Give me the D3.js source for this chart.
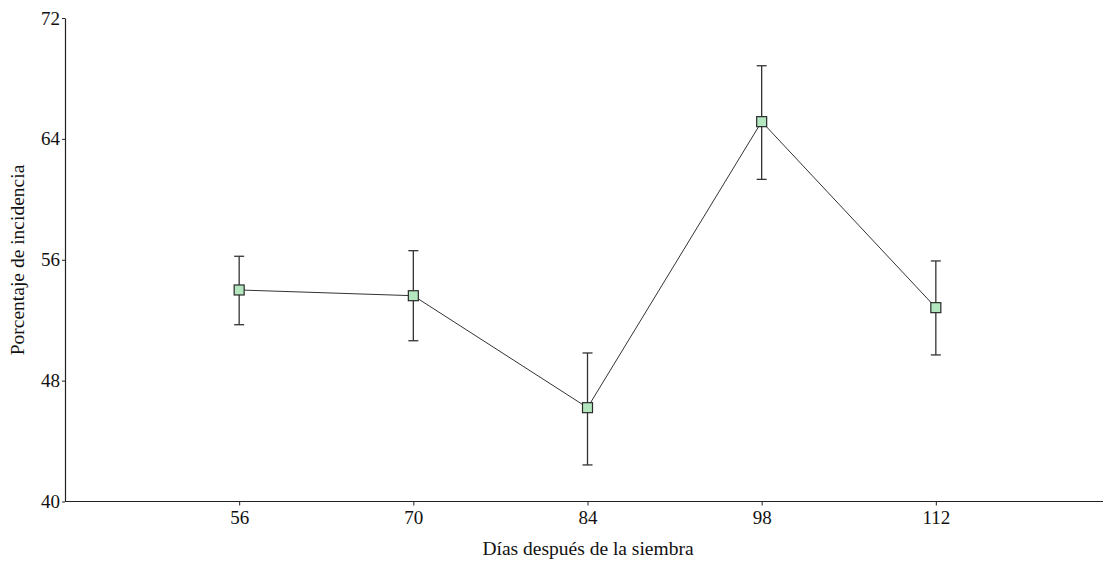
<!DOCTYPE html>
<html><head><meta charset="utf-8">
<script src="https://cdn.jsdelivr.net/npm/d3@7"></script>
<style>body{margin:0;background:#fff}svg{display:block}text{font-family:"Liberation Serif","Times New Roman",serif;fill:#111}</style>
</head><body><svg id="c" width="1103" height="563"></svg>
<script>
const days = [56, 70, 84, 98, 112];
const means = [54.0, 53.62, 46.21, 65.14, 52.83];
const upper = [56.23, 56.6, 49.83, 68.84, 55.92];
const lower = [51.7, 50.64, 42.42, 61.32, 49.7];
const yTicks = [40, 48, 56, 64, 72];
const xLabel = "Días después de la siembra";
const yLabel = "Porcentaje de incidencia";

const svg = d3.select("#c");
const x = d3.scaleLinear().domain([42, 126]).range([65, 1110]);
const y = d3.scaleLinear().domain([40, 72]).range([501.5, 18]);

const xAxis = svg.append("g").attr("transform", "translate(0,501.5)")
  .call(d3.axisBottom(x).tickValues(days).tickSize(4).tickSizeOuter(0).tickPadding(5));
const yAxis = svg.append("g").attr("transform", "translate(65,0)")
  .call(d3.axisLeft(y).tickValues(yTicks).tickSize(3).tickSizeOuter(0).tickPadding(2));
[xAxis, yAxis].forEach(g => {
  g.select(".domain").attr("stroke", "#222").attr("stroke-width", 1.2);
  g.selectAll(".tick line").attr("stroke", "#222");
  g.selectAll(".tick text").style("font-family", '"Liberation Serif",serif').style("font-size", "19px").attr("fill", "#111");
});
xAxis.select(".domain").remove();
xAxis.append("line").attr("x1", 65).attr("x2", 1103).attr("y1", 0).attr("y2", 0)
  .attr("stroke", "#222").attr("stroke-width", 1.2);

const data = days.map((d, i) => ({d, m: means[i], hi: upper[i], lo: lower[i]}));

svg.append("path").datum(data)
  .attr("fill", "none").attr("stroke", "#333").attr("stroke-width", 1)
  .attr("d", d3.line().x(p => x(p.d)).y(p => y(p.m)));

const eb = svg.append("g").attr("stroke", "#333").attr("stroke-width", 1.3);
data.forEach(p => {
  eb.append("line").attr("x1", x(p.d)).attr("x2", x(p.d)).attr("y1", y(p.hi)).attr("y2", y(p.lo));
  eb.append("line").attr("x1", x(p.d) - 5).attr("x2", x(p.d) + 5).attr("y1", y(p.hi)).attr("y2", y(p.hi));
  eb.append("line").attr("x1", x(p.d) - 5).attr("x2", x(p.d) + 5).attr("y1", y(p.lo)).attr("y2", y(p.lo));
});

svg.append("g").selectAll("rect").data(data).join("rect")
  .attr("x", p => x(p.d) - 5).attr("y", p => y(p.m) - 5)
  .attr("width", 10).attr("height", 10)
  .attr("fill", "#b4e6bf").attr("stroke", "#2a2a2a").attr("stroke-width", 1.2);

svg.append("text").attr("x", 588).attr("y", 555).attr("text-anchor", "middle")
  .style("font-size", "19.5px").text(xLabel);
svg.append("text").attr("transform", "translate(24,260) rotate(-90)").attr("text-anchor", "middle")
  .style("font-size", "19.5px").text(yLabel);
</script></body></html>
